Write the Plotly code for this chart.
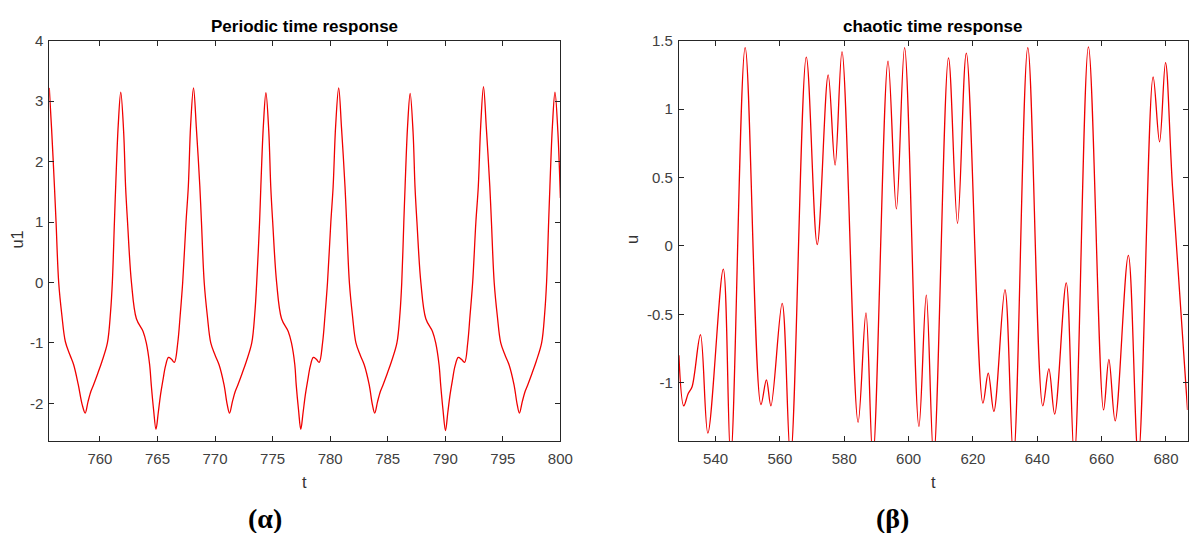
import plotly.graph_objects as go

# ---------------- data: periodic response (left panel) ----------------
t_periodic = [
    755.60, 755.80, 756.05, 756.19, 756.42, 756.70, 757.00, 757.40, 757.72, 758.12,
    758.46, 758.72, 758.97, 759.22, 759.45, 759.82, 760.17, 760.65, 760.92, 761.08,
    761.26, 761.37, 761.59, 761.81, 762.06, 762.23, 762.40, 762.74, 763.17, 763.75,
    764.03, 764.32, 764.46, 764.66, 764.87, 765.07, 765.27, 765.47, 765.70, 765.96,
    766.22, 766.47, 766.76, 766.97, 767.19, 767.48, 767.68, 767.88, 768.13,
    768.38, 768.68, 768.82, 769.06, 769.33, 769.63, 770.00, 770.35, 770.78, 771.06,
    771.26, 771.51, 771.76, 771.99, 772.36, 772.71, 773.19, 773.46, 773.62, 773.87,
    773.98, 774.20, 774.42, 774.67, 774.84, 775.01, 775.35, 775.78, 776.36, 776.64,
    776.93, 777.05, 777.25, 777.45, 777.65, 777.85, 778.05, 778.28, 778.54, 778.80,
    779.05, 779.34, 779.55, 779.77, 780.06, 780.26, 780.48, 780.74,
    780.99, 781.29, 781.43, 781.67, 781.94, 782.24, 782.61, 782.96, 783.39, 783.67,
    783.87, 784.12, 784.37, 784.60, 784.97, 785.32, 785.80, 786.07, 786.22, 786.40,
    786.51, 786.73, 786.95, 787.20, 787.37, 787.54, 787.88, 788.31, 788.89, 789.17,
    789.46, 789.60, 789.80, 790.02, 790.22, 790.42, 790.62, 790.85, 791.13, 791.40,
    791.68, 791.95, 792.15, 792.38, 792.66, 792.87, 793.08, 793.32,
    793.57, 793.87, 794.01, 794.25, 794.52, 794.82, 795.19, 795.54, 795.97, 796.25,
    796.44, 796.69, 796.94, 797.17, 797.54, 797.89, 798.37, 798.64, 798.80, 798.98,
    799.09, 799.31, 799.53, 799.78, 800.00,
]
u_periodic = [
    3.22, 2.55, 1.59, 1.00, 0.00, -0.55, -0.98, -1.20, -1.36, -1.69,
    -2.02, -2.16, -1.97, -1.80, -1.69, -1.50, -1.31, -1.00, -0.50, 0.00,
    1.00, 1.59, 2.60, 3.15, 2.50, 1.59, 1.00, 0.00, -0.60, -0.81,
    -1.00, -1.36, -1.69, -2.10, -2.43, -2.15, -1.85, -1.62, -1.38, -1.24,
    -1.27, -1.32, -1.00, -0.55, 0.00, 1.00, 1.59, 2.60, 3.22,
    2.55, 1.59, 1.00, 0.00, -0.55, -1.00, -1.20, -1.36, -1.69, -2.02,
    -2.16, -1.97, -1.80, -1.69, -1.50, -1.31, -1.00, -0.50, 0.00, 1.00,
    1.59, 2.60, 3.14, 2.50, 1.59, 1.00, 0.00, -0.60, -0.81, -1.00,
    -1.36, -1.69, -2.10, -2.43, -2.15, -1.85, -1.62, -1.38, -1.24, -1.27,
    -1.32, -1.00, -0.55, 0.00, 1.00, 1.59, 2.60, 3.22,
    2.55, 1.59, 1.00, 0.00, -0.55, -1.00, -1.20, -1.36, -1.69, -2.02,
    -2.16, -1.97, -1.80, -1.69, -1.50, -1.31, -1.00, -0.50, 0.00, 1.00,
    1.59, 2.60, 3.13, 2.50, 1.59, 1.00, 0.00, -0.60, -0.81, -1.00,
    -1.36, -1.69, -2.10, -2.45, -2.15, -1.85, -1.62, -1.38, -1.24, -1.27,
    -1.32, -1.00, -0.55, 0.00, 1.00, 1.59, 2.60, 3.24,
    2.55, 1.59, 1.00, 0.00, -0.55, -1.00, -1.20, -1.36, -1.69, -2.02,
    -2.16, -1.97, -1.80, -1.69, -1.50, -1.31, -1.00, -0.50, 0.00, 1.00,
    1.59, 2.60, 3.15, 2.50, 1.40,
]

# ---------------- data: chaotic response (right panel) ----------------
t_chaotic = [
    528.6, 530.1, 531.5, 532.7, 535.3, 537.6, 542.4, 544.7, 549.2, 554.1,
    555.8, 557.2, 560.7, 563.3, 568.2, 571.6, 575.0, 577.15, 579.3, 584.3,
    586.75, 588.9, 593.6, 596.2, 598.75, 603.2, 605.5, 607.8, 612.4, 615.2,
    617.95, 623.1, 624.75, 626.5, 629.95, 632.6, 637.05, 641.7, 643.6, 645.4,
    649.0, 651.5, 655.9, 660.6, 662.25, 664.2, 668.3, 671.4, 676.0, 678.0,
    679.85, 682.0, 686.7,
]
u_chaotic = [
    -0.80, -1.17, -1.08, -1.03, -0.65, -1.37, -0.17, -1.55, 1.45, -1.16,
    -0.98, -1.17, -0.42, -1.55, 1.38, 0.01, 1.25, 0.59, 1.42, -1.29,
    -0.49, -1.55, 1.35, 0.27, 1.45, -1.32, -0.36, -1.55, 1.375, 0.165,
    1.41, -1.15, -0.93, -1.21, -0.32, -1.55, 1.45, -1.17, -0.90, -1.23,
    -0.27, -1.55, 1.455, -1.20, -0.83, -1.28, -0.07, -1.55, 1.235, 0.76,
    1.34, 0.44, -1.20,
]

# ---------------- ticks ----------------
x1_ticks = [760, 765, 770, 775, 780, 785, 790, 795, 800]
y1_ticks = [-2, -1, 0, 1, 2, 3, 4]
y1_text = ["-2", "-1", "0", "1", "2", "3", "4"]
x2_ticks = [540, 560, 580, 600, 620, 640, 660, 680]
y2_ticks = [-1, -0.5, 0, 0.5, 1, 1.5]
y2_text = ["-1", "-0.5", "0", "0.5", "1", "1.5"]

W, H = 1204, 533


def fx(p):
    return p / W


def fy(p):
    return 1 - p / H


L1, R1 = 49.8, 566.5
L2, R2 = 686.3, 1200.5
TOP, BOT = 32.3, 439.3

fig = go.Figure()
line_style = dict(color="#f00000", width=1.3, shape="spline", smoothing=1.0)
fig.add_trace(go.Scatter(x=t_periodic, y=u_periodic, mode="lines", line=line_style,
                         xaxis="x", yaxis="y", showlegend=False, hoverinfo="skip"))
fig.add_trace(go.Scatter(x=t_chaotic, y=u_chaotic, mode="lines", line=line_style,
                         xaxis="x2", yaxis="y2", showlegend=False, hoverinfo="skip"))

tick_font = dict(family="Liberation Sans, Arial, sans-serif", size=15, color="#404040")
common = dict(showline=True, linecolor="#262626", linewidth=1, mirror="ticks",
              ticks="inside", ticklen=5, tickcolor="#262626", tickwidth=1,
              showgrid=False, zeroline=False, tickfont=tick_font, fixedrange=True)

fig.update_layout(
    width=W, height=H, margin=dict(l=0, r=0, t=0, b=0),
    paper_bgcolor="white", plot_bgcolor="white",
    xaxis=dict(domain=[fx(L1), fx(R1)], range=[755.6, 800], tickvals=x1_ticks,
               ticktext=[str(v) for v in x1_ticks], anchor="y", ticklabelstandoff=4, **common),
    yaxis=dict(domain=[fy(BOT), fy(TOP)], range=[-2.62, 4], tickvals=y1_ticks,
               ticktext=y1_text, anchor="x", ticklabelstandoff=2, **common),
    xaxis2=dict(domain=[fx(L2), fx(R2)], range=[528.6, 686.7], tickvals=x2_ticks,
                ticktext=[str(v) for v in x2_ticks], anchor="y2", ticklabelstandoff=4, **common),
    yaxis2=dict(domain=[fy(BOT), fy(TOP)], range=[-1.426, 1.5], tickvals=y2_ticks,
                ticktext=y2_text, anchor="x2", ticklabelstandoff=2, **common),
)

sans = "Liberation Sans, Arial, sans-serif"
serif = "Liberation Serif, Times New Roman, serif"
ann = [
    dict(text="<b>Periodic time response</b>", x=fx((L1 + R1) / 2), y=fy(17.7),
         font=dict(family=sans, size=17, color="#000000")),
    dict(text="<b>chaotic time response</b>", x=fx((L2 + R2) / 2), y=fy(17.7),
         font=dict(family=sans, size=17, color="#000000")),
    dict(text="t", x=fx((L1 + R1) / 2), y=fy(481), font=dict(family=sans, size=16.5, color="#333333")),
    dict(text="t", x=fx((L2 + R2) / 2), y=fy(481), font=dict(family=sans, size=16.5, color="#333333")),
    dict(text="u1", x=fx(17.2), y=fy(234.5), textangle=-90,
         font=dict(family=sans, size=16.5, color="#333333")),
    dict(text="u", x=fx(638.4), y=fy(234.5), textangle=-90,
         font=dict(family=sans, size=16.5, color="#333333")),
    dict(text="<b>(α)</b>", x=fx(268), y=fy(518), font=dict(family=serif, size=28, color="#000000")),
    dict(text="<b>(β)</b>", x=fx(902), y=fy(518), font=dict(family=serif, size=28, color="#000000")),
]
for a in ann:
    a.update(xref="paper", yref="paper", showarrow=False, xanchor="center", yanchor="middle")
fig.update_layout(annotations=ann)

fig.write_html("out.html")
